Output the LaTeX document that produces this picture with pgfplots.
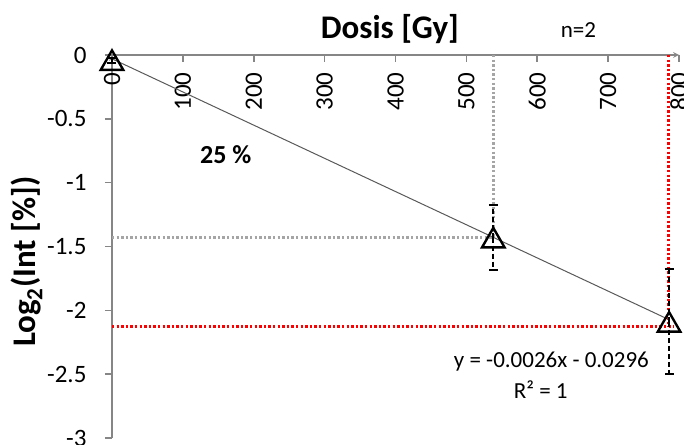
\documentclass[border=0pt]{standalone}
\usepackage{fontspec}
\setmainfont{Carlito}
\usepackage{pgfplots}
\usepackage{pgfplotstable}
\pgfplotsset{compat=1.18}

\definecolor{axisgray}{HTML}{868686}
\definecolor{guidegray}{HTML}{A5A5A5}
\definecolor{trendgray}{HTML}{595959}

% dose [Gy], log2 of intensity, error
\pgfplotstableread{
x    y      e
0    -0.04  0.02
538  -1.43  0.255
786  -2.09  0.41
}\dosedata

\begin{document}
\begin{tikzpicture}
\begin{axis}[
  name=ax,
  scale only axis, width=567pt, height=383pt,
  xmin=0, xmax=800, ymin=-3, ymax=0,
  axis x line=top, axis y line=left,
  every non boxed x axis/.append style={x axis line style=-},
  every non boxed y axis/.append style={y axis line style=-},
  axis line style={draw=axisgray, line width=1.6pt},
  xtick={0,100,200,300,400,500,600,700,800},
  ytick={-3,-2.5,-2,-1.5,-1,-0.5,0},
  xtick align=inside, ytick align=outside,
  major tick length=7pt,
  tick style={draw=axisgray, line width=1.6pt},
  /pgf/number format/assume math mode=true,
  tick label style={font=\fontsize{25}{29}\selectfont},
  xticklabel style={yshift=-14pt, rotate=90, anchor=east},
  yticklabel style={xshift=-15pt, /pgf/number format/fixed},
  clip=false,
]
% guide lines to the 540 Gy point
\addplot[guidegray, line width=3pt, dash pattern=on 2.4pt off 2.2pt] coordinates {(538,0) (538,-1.43)};
\addplot[guidegray, line width=3pt, dash pattern=on 2.4pt off 2.2pt] coordinates {(0,-1.43) (538,-1.43)};
% guide lines to the 786 Gy point
\addplot[red, line width=3pt, dash pattern=on 2.4pt off 2.2pt] coordinates {(785,0) (785,-2.13)};
\addplot[red, line width=3pt, dash pattern=on 2.4pt off 2.2pt] coordinates {(0,-2.13) (792,-2.13)};
% linear fit y = -0.0026x - 0.0296
\addplot[trendgray, line width=1pt] coordinates {(0,-0.0296) (786,-2.0732)};
% measured points
\addplot[black, only marks, mark=triangle, mark size=13pt,
  mark options={line width=2.4pt, yshift=-3.3pt, fill=none},
  error bars/.cd, y dir=both, y explicit,
  error bar style={black, line width=2pt, dash pattern=on 5pt off 3pt},
  error mark options={black, solid, rotate=90, line width=2pt, mark size=4.5pt}]
  table[x=x, y=y, y error=e] {\dosedata};

\node[font=\bfseries\fontsize{33}{38}\selectfont, yshift=26pt] at (axis cs:392,0) {Dosis [Gy]};
\node[font=\fontsize{23}{27}\selectfont, yshift=25pt] at (axis cs:658,0) {n=2};
\node[font=\bfseries\fontsize{33}{38}\selectfont, rotate=90] at (axis cs:-120,-1.62) {Log\textsubscript{2}(Int [\%])};
\node[font=\bfseries\fontsize{26}{30}\selectfont] at (axis cs:160.6,-0.78) {25 \%};
\node[font=\fontsize{23}{27}\selectfont] at (axis cs:620,-2.40) {y = -0.0026x - 0.0296};
\node[font=\fontsize{23}{27}\selectfont] at (axis cs:605,-2.625) {R² = 1};
\end{axis}
\pgfresetboundingbox
\path[use as bounding box] ([shift={(-112pt,-7pt)}]ax.south west) rectangle ([shift={(5pt,55pt)}]ax.north east);
\end{tikzpicture}
\end{document}
